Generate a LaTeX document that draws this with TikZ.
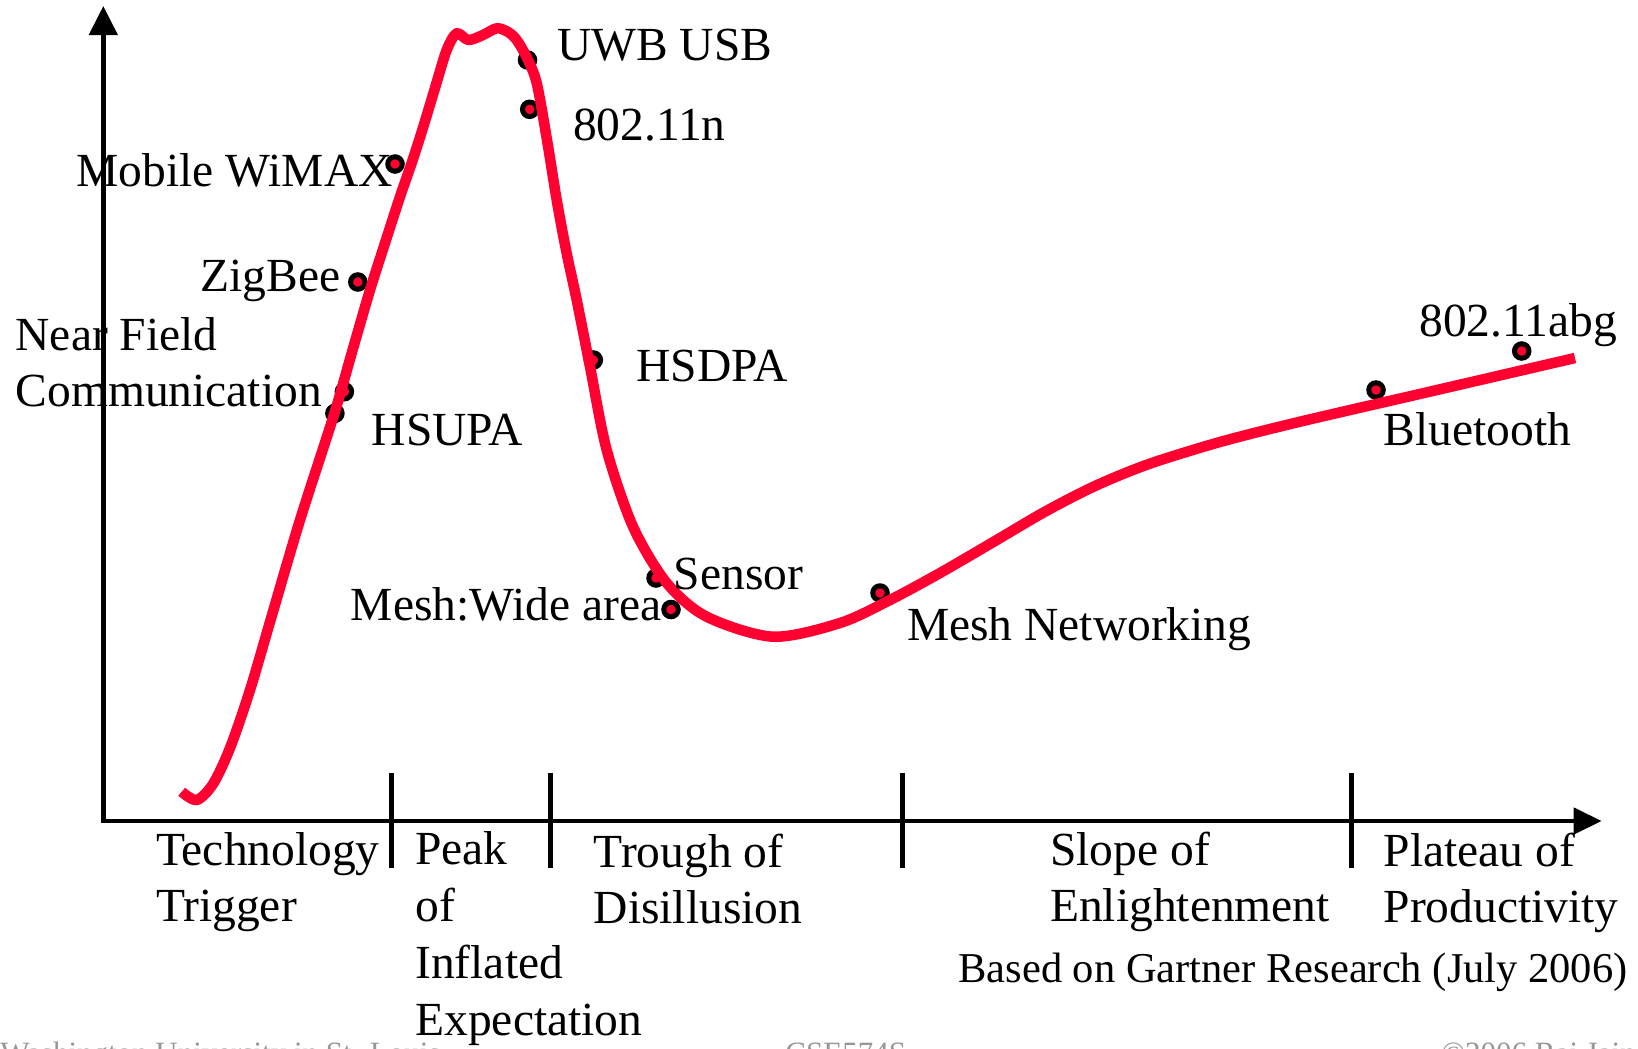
\documentclass[tikz,border=0pt]{standalone}
\usepackage{fontspec}
\setmainfont{Liberation Serif}
\usetikzlibrary{arrows.meta}

\definecolor{hypered}{RGB}{255,0,48}
\definecolor{footgray}{RGB}{150,150,150}
\newcommand{\hypefont}{\fontsize{23.75}{28.35}\selectfont}
\newcommand{\notefont}{\fontsize{21.25}{25.5}\selectfont}
\newcommand{\footfont}{\fontsize{15.5}{18}\selectfont}

\begin{document}
\begin{tikzpicture}[
  x=0.5pt, y=-0.5pt,
  axis/.style={line width=2.25pt, line join=miter,
    {Triangle[length=14.5pt, width=14pt]}-{Triangle[length=14pt, width=13pt]}},
  phase/.style={line width=2.25pt},
  hype/.style={draw=hypered, line width=5.25pt, line join=round},
  dot/.style={circle, draw=black, fill=hypered, line width=2.5pt,
    minimum size=7.25pt, inner sep=0pt},
  lbl/.style={font=\hypefont, inner sep=0pt},
  stage/.style={font=\hypefont, inner sep=0pt, align=left, anchor=base west}
]
\useasboundingbox (0,0) rectangle (1638,1049);

% axes and phase ticks
\coordinate (ytip) at (103.3,6);
\coordinate (xtip) at (1601.7,821);
\draw[axis] (ytip) |- (xtip);
\foreach \tx in {391.7, 550.5, 902.5, 1351.7}
  \draw[phase] (\tx,773) -- (\tx,868);

% technologies on the curve
\node[dot] (wimax) at (395,164) {};
\node[dot] (zigbee) at (357.8,282) {};
\node[dot] (nfc) at (344.4,391.7) {};
\node[dot] (hsupa) at (334.9,413.3) {};
\node[dot] (uwb) at (527.5,60) {};
\node[dot] (wlann) at (529.7,109.3) {};
\node[dot] (hsdpa) at (593.3,360) {};
\node[dot] (sensor) at (656,578) {};
\node[dot] (meshwide) at (671,609.5) {};
\node[dot] (meshnet) at (880,593) {};
\node[dot] (bt) at (1376,390) {};
\node[dot] (wlanabg) at (1521.7,351) {};

% hype curve
\draw[hype] plot[smooth, tension=0.5] coordinates {
  (181.7,791.7) (196.7,800) (213,784) (230,748) (250,690) (272,615)
  (300,520) (334.5,413) (352,352) (370,290) (385,243)
  (400,196.7) (412,162) (423.3,126.7) (435,88) (446.7,50) (456.7,33.3)
  (468.3,40) (483,35) (496.7,28.3) (508,32) (516.7,40) (527,58)
  (536.7,83) (547,140) (556.7,200) (566,250) (576.7,300) (590,366.7)
  (606.7,450) (633,526.7) (666.7,583) (706.7,616.7) (773,636.7)
  (840,623) (890,600) (940,573) (995,541) (1044.6,511.9) (1095,486)
  (1149,464) (1220,442) (1300,421.7) (1437,390) (1575,358)};

% labels
\node[lbl, anchor=base east] (wimax-l) at (393,186.7) {Mobile WiMAX};
\node[lbl, anchor=base east] (zigbee-l) at (340.6,291.7) {ZigBee};
\node[lbl, anchor=base west, align=left] (nfc-l) at (15.3,406.7) {Near Field\\Communication};
\node[lbl, anchor=base west] (hsupa-l) at (371.5,445) {HSUPA};
\node[lbl, anchor=base west] (uwb-l) at (556.7,60) {UWB USB};
\node[lbl, anchor=base west] (wlann-l) at (572.7,140) {802.11n};
\node[lbl, anchor=base west] (hsdpa-l) at (636,381.7) {HSDPA};
\node[lbl, anchor=base west] (sensor-l) at (673.5,589) {Sensor};
\node[lbl, anchor=base east] (meshwide-l) at (662,620.3) {Mesh:Wide area};
\node[lbl, anchor=base west] (meshnet-l) at (906.7,640.5) {Mesh Networking};
\node[lbl, anchor=base west] (bt-l) at (1383.3,445) {Bluetooth};
\node[lbl, anchor=base west] (wlanabg-l) at (1419,336.7) {802.11abg};

% phases (anchored on the last line)
\node[stage] (trigger) at (155.7,921.7) {Technology\\Trigger};
\node[stage] (peak) at (415,1035) {Peak\\of\\Inflated\\Expectation};
\node[stage] (trough) at (593.3,923.7) {Trough of\\Disillusion};
\node[stage] (slope) at (1049.8,921.7) {Slope of\\Enlightenment};
\node[stage] (plateau) at (1383.3,922.7) {Plateau of\\Productivity};
\node[font=\notefont, inner sep=0pt, anchor=base east] (source) at (1628,982.5)
  {Based on Gartner Research (July 2006)};

% footer, cut off by the page edge
\begin{scope}
\clip (0,0) rectangle (1638,1049);
\node[font=\footfont, text=footgray, inner sep=0pt, anchor=base west] (foot-l) at (0,1063)
  {Washington University in St. Louis};
\node[font=\footfont, text=footgray, inner sep=0pt, anchor=base west] (foot-c) at (785,1063) {CSE574S};
\node[font=\footfont, text=footgray, inner sep=0pt, anchor=base east] (foot-r) at (1636,1063) {\textcopyright2006 Raj Jain};
\end{scope}
\end{tikzpicture}
\end{document}
